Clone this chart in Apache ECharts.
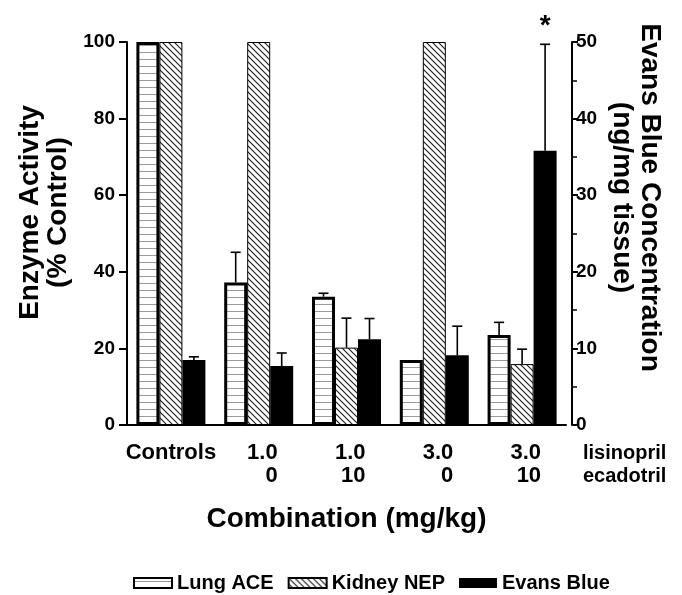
<!DOCTYPE html>
<html>
<head>
<meta charset="utf-8">
<script src="https://cdn.jsdelivr.net/npm/echarts@6/dist/echarts.min.js"></script>
<style>
  html, body { margin: 0; padding: 0; background: #fff; }
  #chart { width: 682px; height: 595px; }
</style>
</head>
<body>
<div id="chart"></div>
<script>
// groups: lisinopril / ecadotril doses (mg/kg)
const categories = ['Controls', '1.0/0', '1.0/10', '3.0/0', '3.0/10'];
const lisinoprilDose = ['', '1.0', '1.0', '3.0', '3.0'];
const ecadotrilDose = ['', '0', '10', '0', '10'];

// enzyme activity, % control (left axis)
const lungACE = [100, 37.2, 33.5, 17, 23.5];
const lungACEErr = [100, 45.1, 34.4, 17, 26.8];
const kidneyNEP = [100, 100, 20.2, 100, 15.9];
const kidneyNEPErr = [100, 100, 27.9, 100, 19.8];

// evans blue, ng/mg tissue (right axis)
const evansBlue = [8.5, 7.7, 11.2, 9.1, 35.8];
const evansBlueErr = [8.9, 9.4, 13.9, 12.9, 49.7];
const evansSig = ['', '', '', '', '*'];

const leftTicks = { min: 0, max: 100, interval: 20 };
const rightTicks = { min: 0, max: 50, interval: 10 };

const FONT = '"Liberation Sans", Arial, Helvetica, sans-serif';
const BAR_W = 23;

function stripePattern() {
  const c = document.createElement('canvas');
  c.width = 8; c.height = 7;
  const ctx = c.getContext('2d');
  ctx.fillStyle = '#fff';
  ctx.fillRect(0, 0, 8, 7);
  ctx.fillStyle = '#9a9a9a';
  ctx.fillRect(0, 3, 8, 1);
  return c;
}

function hatchPattern() {
  const s = 6;
  const c = document.createElement('canvas');
  c.width = s; c.height = s;
  const ctx = c.getContext('2d');
  ctx.fillStyle = '#fff';
  ctx.fillRect(0, 0, s, s);
  ctx.strokeStyle = '#222';
  ctx.lineWidth = 1.2;
  ctx.beginPath();
  ctx.moveTo(0, 0); ctx.lineTo(s, s);
  ctx.moveTo(-1, s - 1); ctx.lineTo(1, s + 1);
  ctx.moveTo(s - 1, -1); ctx.lineTo(s + 1, 1);
  ctx.stroke();
  return c;
}

const stripes = { image: stripePattern(), repeat: 'repeat' };
const hatch = { image: hatchPattern(), repeat: 'repeat' };

// upper error whiskers, shifted to the bar slot inside the group
function errorSeries(name, lows, highs, slot, yAxisIndex, marks) {
  return {
    name: name,
    type: 'custom',
    yAxisIndex: yAxisIndex,
    z: 5,
    silent: true,
    data: lows.map((v, i) => [i, v, highs[i]]),
    renderItem: function (params, api) {
      const i = api.value(0);
      const lo = api.coord([i, api.value(1)]);
      const hi = api.coord([i, api.value(2)]);
      const x = lo[0] + slot * BAR_W;
      const children = [];
      if (hi[1] < lo[1] - 0.5) {
        children.push({
          type: 'line',
          shape: { x1: x, y1: lo[1], x2: x, y2: hi[1] },
          style: { stroke: '#000', lineWidth: 1.6 }
        });
        children.push({
          type: 'line',
          shape: { x1: x - 5, y1: hi[1], x2: x + 5, y2: hi[1] },
          style: { stroke: '#000', lineWidth: 1.6 }
        });
      }
      if (marks && marks[i]) {
        children.push({
          type: 'text',
          x: x, y: hi[1] - 4,
          style: {
            text: marks[i], fill: '#000', align: 'center', verticalAlign: 'bottom',
            font: 'bold 28px ' + FONT
          }
        });
      }
      return { type: 'group', children: children };
    }
  };
}

const titleStyle = { fontFamily: FONT, fontWeight: 'bold', fontSize: 28, color: '#000', lineHeight: 28 };

const chart = echarts.init(document.getElementById('chart'));
chart.setOption({
  animation: false,
  backgroundColor: '#fff',
  textStyle: { fontFamily: FONT },
  grid: { left: 127, right: 116, top: 42, bottom: 170, containLabel: false },
  legend: {
    data: ['Lung ACE', 'Kidney NEP', 'Evans Blue'],
    top: 568,
    left: 128,
    itemWidth: 38,
    itemHeight: 10,
    itemGap: 14,
    icon: 'rect',
    textStyle: { fontFamily: FONT, fontWeight: 'bold', fontSize: 20, color: '#000' }
  },
  xAxis: {
    type: 'category',
    data: categories,
    name: 'Combination (mg/kg)',
    nameLocation: 'middle',
    nameGap: 80,
    nameTextStyle: titleStyle,
    axisLine: { lineStyle: { color: '#000', width: 2 } },
    axisTick: { show: false },
    axisLabel: {
      margin: 16,
      interval: 0,
      formatter: function (v, i) {
        if (!lisinoprilDose[i]) return '{c|' + v + '}';
        return '{r|' + lisinoprilDose[i] + '}\n{r|' + ecadotrilDose[i] + '}';
      },
      rich: {
        c: { fontFamily: FONT, fontWeight: 'bold', fontSize: 22, color: '#000', lineHeight: 23 },
        r: { fontFamily: FONT, fontWeight: 'bold', fontSize: 22, color: '#000', lineHeight: 23, width: 38, align: 'right' }
      }
    }
  },
  yAxis: [
    {
      type: 'value',
      min: leftTicks.min, max: leftTicks.max, interval: leftTicks.interval,
      name: 'Enzyme Activity\n(% Control)',
      nameLocation: 'middle',
      nameGap: 55,
      nameTextStyle: Object.assign({}, titleStyle, { padding: [0, 0, 0, 42] }),
      axisLine: { show: true, lineStyle: { color: '#000', width: 2 } },
      axisTick: { show: true, length: 8, lineStyle: { color: '#000', width: 2 } },
      axisLabel: { margin: 12, fontFamily: FONT, fontWeight: 'bold', fontSize: 19, color: '#000' },
      splitLine: { show: false }
    },
    {
      type: 'value',
      position: 'right',
      offset: 6,
      min: rightTicks.min, max: rightTicks.max, interval: rightTicks.interval,
      name: 'Evans Blue Concentration\n(ng/mg tissue)',
      nameLocation: 'middle',
      nameRotate: -90,
      nameGap: 32,
      nameTextStyle: Object.assign({}, titleStyle, { padding: [0, 72, 0, 0] }),
      axisLine: { show: true, lineStyle: { color: '#000', width: 2 } },
      axisTick: { show: true, length: 6, lineStyle: { color: '#000', width: 2 } },
      minorTick: { show: true, splitNumber: 2, length: 5, lineStyle: { color: '#000', width: 1.5 } },
      axisLabel: { margin: 4, fontFamily: FONT, fontWeight: 'bold', fontSize: 19, color: '#000' },
      splitLine: { show: false },
      minorSplitLine: { show: false }
    }
  ],
  series: [
    {
      name: 'Lung ACE', type: 'bar', yAxisIndex: 0,
      barWidth: BAR_W, barGap: '0%',
      data: lungACE,
      itemStyle: { color: stripes, borderColor: '#000', borderWidth: 3 }
    },
    {
      name: 'Kidney NEP', type: 'bar', yAxisIndex: 0,
      barWidth: BAR_W, barGap: '0%',
      data: kidneyNEP,
      itemStyle: { color: hatch, borderColor: '#000', borderWidth: 1 }
    },
    {
      name: 'Evans Blue', type: 'bar', yAxisIndex: 1,
      barWidth: BAR_W, barGap: '0%',
      data: evansBlue,
      itemStyle: { color: '#000' }
    },
    errorSeries('Lung ACE err', lungACE, lungACEErr, -1, 0),
    errorSeries('Kidney NEP err', kidneyNEP, kidneyNEPErr, 0, 0),
    errorSeries('Evans Blue err', evansBlue, evansBlueErr, 1, 1, evansSig)
  ],
  graphic: [
    {
      type: 'text', left: 583, top: 442,
      style: {
        text: 'lisinopril\necadotril', fill: '#000', lineHeight: 23,
        font: 'bold 20px ' + FONT
      }
    }
  ]
});
</script>
</body>
</html>
